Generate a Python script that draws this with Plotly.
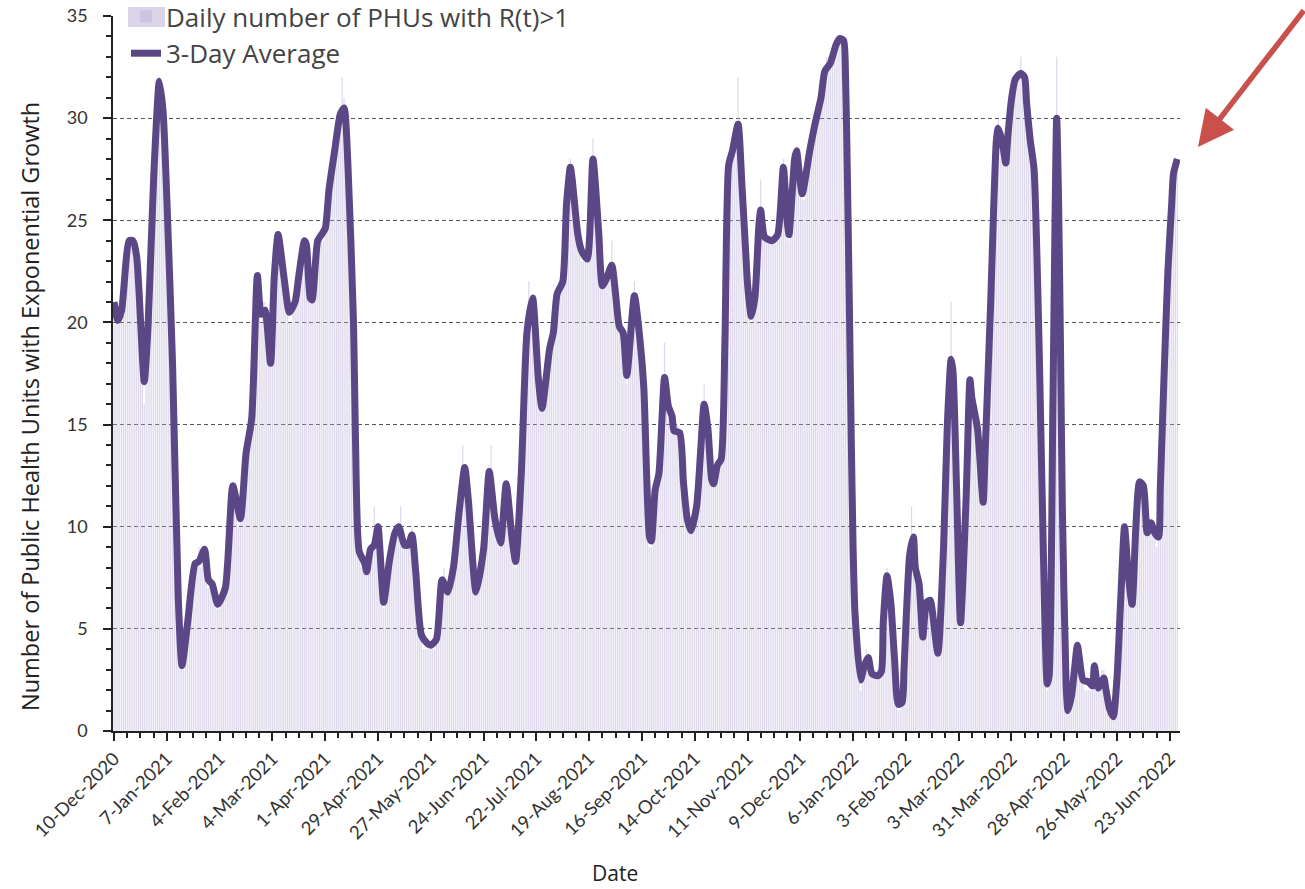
import pandas as pd
import plotly.graph_objects as go

start_date = "2020-12-10"

# Daily number of PHUs with R(t)>1 (one value per day from 10-Dec-2020)
daily = [
    21, 20, 20, 21, 20, 22, 23, 24, 24, 24,
    24, 23, 24, 22, 20, 18, 16, 18, 20, 23,
    25, 27, 29, 31, 32, 31, 30, 28, 26, 23,
    21, 18, 14, 10, 6, 4, 3, 3, 4, 5,
    6, 7, 8, 8, 8, 9, 8, 9, 9, 8,
    7, 7, 7, 7, 6, 6, 6, 7, 7, 8,
    9, 10, 11, 12, 12, 11, 10, 11, 12, 13,
    14, 14, 15, 15, 18, 20, 22, 21, 20, 21,
    21, 20, 19, 18, 20, 22, 24, 24, 24, 23,
    22, 21, 21, 20, 20, 21, 21, 21, 22, 23,
    24, 24, 24, 22, 21, 21, 22, 23, 24, 24,
    24, 24, 25, 26, 26, 27, 28, 28, 29, 30,
    30, 32, 31, 29, 28, 25, 23, 19, 15, 11,
    9, 8, 8, 8, 8, 8, 9, 9, 11, 10,
    10, 9, 7, 6, 7, 7, 8, 9, 9, 10,
    10, 10, 11, 9, 9, 9, 9, 9, 10, 9,
    8, 6, 5, 5, 4, 4, 4, 4, 4, 4,
    4, 5, 5, 7, 7, 8, 7, 7, 7, 8,
    8, 9, 10, 11, 11, 14, 13, 12, 11, 10,
    8, 7, 7, 7, 8, 8, 9, 10, 11, 13,
    14, 11, 10, 10, 9, 9, 10, 11, 12, 12,
    11, 10, 9, 8, 9, 11, 13, 15, 18, 20,
    22, 21, 21, 20, 18, 17, 16, 16, 16, 17,
    18, 19, 19, 20, 21, 21, 22, 22, 22, 24,
    26, 27, 28, 27, 26, 25, 24, 24, 23, 23,
    23, 23, 25, 27, 29, 27, 26, 24, 24, 22,
    22, 22, 22, 23, 24, 22, 21, 21, 20, 20,
    19, 18, 17, 18, 20, 21, 22, 21, 20, 19,
    18, 17, 15, 12, 9, 9, 11, 12, 12, 13,
    14, 17, 19, 16, 16, 16, 15, 15, 15, 15,
    14, 13, 12, 11, 10, 10, 10, 10, 11, 11,
    12, 14, 16, 17, 16, 15, 14, 12, 12, 13,
    13, 13, 13, 15, 19, 24, 28, 28, 28, 29,
    29, 32, 29, 27, 25, 24, 22, 21, 20, 21,
    21, 23, 25, 27, 25, 24, 24, 24, 24, 24,
    24, 24, 24, 26, 27, 28, 26, 25, 24, 26,
    27, 28, 28, 28, 27, 26, 26, 27, 28, 28,
    29, 29, 30, 30, 31, 31, 32, 32, 33, 33,
    33, 33, 33, 34, 34, 34, 34, 34, 32, 27,
    21, 14, 9, 6, 4, 3, 2, 3, 3, 4,
    3, 3, 3, 3, 3, 3, 3, 3, 5, 7,
    8, 7, 6, 5, 3, 2, 1, 1, 2, 3,
    5, 7, 9, 11, 9, 8, 8, 7, 6, 5,
    5, 6, 6, 6, 6, 5, 4, 4, 5, 7,
    10, 13, 16, 17, 21, 18, 15, 11, 8, 5,
    7, 9, 12, 15, 17, 16, 16, 15, 15, 14,
    12, 11, 14, 16, 19, 21, 24, 27, 29, 30,
    29, 29, 28, 28, 29, 30, 31, 31, 32, 32,
    32, 33, 32, 32, 31, 30, 29, 28, 28, 25,
    21, 18, 13, 9, 5, 2, 3, 8, 16, 24,
    33, 26, 19, 11, 5, 2, 1, 1, 2, 3,
    4, 4, 4, 3, 3, 2, 2, 2, 2, 2,
    3, 3, 2, 2, 3, 3, 2, 2, 1, 1,
    1, 1, 3, 5, 7, 10, 10, 8, 8, 7,
    6, 8, 10, 12, 12, 12, 12, 10, 10, 10,
    10, 10, 10, 9, 10, 12, 15, 18, 21, 23,
    25, 26, 27, 28, 28,
]

# 3-day average line, read at its turning points (day offset from 10-Dec-2020, value)
avg_day = [
    0, 2, 4, 8, 10, 12, 16, 18, 21, 24, 26, 28, 31, 34, 36, 39, 43, 45, 48, 50,
    52, 55, 59, 63, 67, 70, 73, 76, 78, 80, 83, 85, 87, 90, 93, 96, 98, 101, 102, 104,
    105, 108, 110, 112, 114, 117, 120, 122, 124, 127, 128, 130, 133, 134, 136, 138, 140, 141, 143, 146,
    149, 151, 154, 156, 158, 160, 163, 166, 168, 171, 174, 177, 180, 183, 186, 188, 192, 196, 199, 202,
    205, 208, 211, 213, 216, 219, 222, 225, 227, 231, 233, 235, 238, 240, 242, 243, 246, 248, 251, 254,
    257, 259, 261, 264, 266, 268, 270, 272, 276, 279, 281, 284, 285, 287, 289, 292, 294, 296, 297, 300,
    302, 304, 306, 309, 311, 313, 315, 317, 318, 320, 322, 324, 326, 328, 331, 333, 335, 336, 338, 340,
    342, 343, 345, 349, 352, 355, 357, 358, 361, 362, 365, 369, 372, 375, 377, 380, 383, 385, 387, 388,
    389, 390, 391, 392, 393, 396, 398, 400, 402, 405, 407, 408, 410, 412, 414, 416, 418, 419, 422, 424,
    425, 427, 429, 431, 433, 434, 437, 440, 442, 444, 445, 447, 449, 452, 454, 455, 458, 461, 462, 465,
    468, 469, 471, 473, 474, 476, 478, 481, 483, 484, 486, 488, 490, 491, 493, 495, 496, 498, 500, 501,
    502, 503, 505, 506, 508, 511, 512, 514, 517, 519, 520, 522, 525, 526, 528, 530, 532, 534, 536, 538,
    540, 542, 544, 546, 548, 550, 552, 554, 555, 557, 559, 561, 562, 564,
]
avg_val = [
    21.0, 20.1, 20.6, 24.0, 24.0, 23.2, 17.1, 19.8, 27.1, 31.8, 30.3, 26.0, 18.0, 6.6, 3.2, 5.3, 8.2, 8.3, 8.9, 7.4,
    7.2, 6.2, 7.0, 12.0, 10.4, 13.6, 15.3, 22.3, 20.4, 20.6, 18.0, 22.3, 24.3, 22.3, 20.5, 21.0, 22.3, 24.0, 23.8, 21.2,
    21.1, 24.0, 24.3, 24.6, 26.5, 28.4, 30.2, 30.5, 27.8, 20.0, 14.5, 8.8, 8.2, 7.8, 8.9, 9.1, 10.0, 8.9, 6.3, 8.3,
    9.7, 10.0, 9.1, 9.1, 9.6, 7.8, 4.7, 4.3, 4.2, 4.5, 7.4, 6.8, 8.0, 10.7, 12.9, 11.2, 6.8, 8.9, 12.7, 10.4,
    9.2, 12.1, 9.5, 8.3, 12.6, 19.5, 21.2, 17.3, 15.8, 18.7, 19.5, 21.4, 22.0, 25.8, 27.6, 27.0, 24.3, 23.5, 23.1, 28.0,
    24.5, 21.8, 22.1, 22.8, 21.4, 19.8, 19.5, 17.4, 21.3, 19.1, 16.8, 9.5, 9.3, 11.8, 12.6, 17.3, 15.9, 15.4, 14.7, 14.6,
    12.2, 10.4, 9.8, 11.0, 13.5, 16.0, 14.8, 12.3, 12.1, 13.0, 13.3, 19.0, 27.7, 28.4, 29.7, 26.8, 23.5, 21.9, 20.3, 21.3,
    24.7, 25.5, 24.2, 24.0, 24.3, 27.6, 25.0, 24.3, 28.0, 28.4, 26.3, 28.4, 29.8, 31.0, 32.3, 32.7, 33.6, 33.9, 33.8, 32.0,
    27.0, 21.0, 14.5, 9.0, 5.8, 2.5, 3.2, 3.6, 2.8, 2.7, 2.9, 5.3, 7.6, 6.3, 3.5, 1.3, 1.4, 3.0, 8.6, 9.5,
    8.0, 7.2, 4.6, 6.3, 6.4, 5.9, 3.8, 9.0, 15.0, 18.2, 17.6, 11.5, 5.3, 11.5, 17.2, 16.3, 14.8, 11.2, 13.5, 21.0,
    28.9, 29.5, 28.9, 27.8, 29.0, 30.9, 31.9, 32.2, 32.0, 30.8, 28.9, 27.5, 21.5, 17.5, 8.5, 2.3, 2.7, 16.0, 30.0, 26.0,
    19.0, 11.0, 2.3, 1.0, 1.8, 4.2, 3.6, 2.5, 2.4, 2.2, 3.2, 2.1, 2.6, 2.1, 1.1, 0.7, 2.6, 6.5, 10.0, 7.6,
    6.2, 10.0, 12.2, 12.0, 9.7, 10.2, 9.7, 9.5, 12.0, 17.5, 22.5, 25.8, 27.3, 28.0,
]

start = pd.Timestamp(start_date)
daily_dates = [start + pd.Timedelta(days=i) for i in range(len(daily))]
avg_dates = [start + pd.Timedelta(days=d) for d in avg_day]

FONT = "Lato, 'Open Sans', Arial, sans-serif"
FONT2 = "'Open Sans', Lato, Arial, sans-serif"
BAR_COLOR = "rgba(190,178,218,0.5)"
SWATCH_COLOR = "#dcd5ea"

W, H = 1305, 889
ML, MR, MT, MB = 113, 125, 16, 158
PW, PH = W - ML - MR, H - MT - MB


def px(x):  # page pixel -> paper x
    return (x - ML) / PW


def py(y):  # page pixel -> paper y
    return (H - MB - y) / PH


fig = go.Figure()
fig.add_trace(go.Bar(
    x=daily_dates, y=daily,
    name="Daily number of PHUs with R(t)>1",
    marker=dict(color=BAR_COLOR, line=dict(width=0)),
))
fig.add_trace(go.Scatter(
    x=avg_dates, y=avg_val, mode="lines",
    name="3-Day Average",
    line=dict(color="#5b4786", width=7, shape="spline", smoothing=0.6),
))

day_ms = 86400000
fig.update_layout(
    width=W, height=H,
    margin=dict(l=ML, r=MR, t=MT, b=MB, autoexpand=False),
    paper_bgcolor="white", plot_bgcolor="white",
    bargap=0.35,
    font=dict(family=FONT, color="#222", size=17),
    showlegend=True,
    legend=dict(
        x=px(126), y=py(-7), xref="paper", yref="paper",
        xanchor="left", yanchor="top",
        bgcolor="rgba(255,255,255,0)",
        font=dict(family=FONT2, size=26, color="#444"),
        tracegroupgap=0, itemwidth=30,
    ),
    xaxis=dict(
        type="date", automargin=False,
        range=[start - pd.Timedelta(hours=14), start + pd.Timedelta(days=565, hours=10)],
        tick0=start_date, dtick=28 * day_ms,
        tickformat="%-d-%b-%Y", tickangle=-45,
        ticks="outside", ticklen=8, tickwidth=1.5, tickcolor="#222",
        minor=dict(dtick=7 * day_ms, tick0=start_date, ticks="outside", ticklen=5, tickcolor="#222"),
        showline=True, linecolor="#222", linewidth=1.5,
        showgrid=False, zeroline=False,
        tickfont=dict(family=FONT, size=18.5, color="#333"),
    ),
    yaxis=dict(
        range=[0, 35], dtick=5, tick0=0, automargin=False,
        ticks="outside", ticklen=8, tickwidth=1.5, tickcolor="#222",
        ticklabelstandoff=12,
        minor=dict(dtick=1, ticks="outside", ticklen=5, tickcolor="#222", showgrid=False),
        showline=True, linecolor="#222", linewidth=1.5,
        showgrid=True, gridcolor="#555", gridwidth=1, griddash="4px,3px",
        zeroline=False,
        tickfont=dict(family=FONT, size=18, color="#333"),
    ),
)

# y-axis title
fig.add_annotation(
    text="Number of Public Health Units with Exponential Growth",
    x=px(30), y=py(407), xref="paper", yref="paper", textangle=-90,
    xanchor="center", yanchor="middle", showarrow=False,
    font=dict(family=FONT2, size=23.5, color="#222"),
)
# x-axis title
fig.add_annotation(
    text="Date", x=px(615), y=py(873), xref="paper", yref="paper",
    xanchor="center", yanchor="middle", showarrow=False,
    font=dict(family=FONT2, size=21, color="#222"),
)

# legend backdrop hides the top gridline behind the legend
fig.add_shape(
    type="rect", xref="paper", yref="paper", layer="above",
    x0=px(114), x1=px(588), y0=py(22), y1=py(10),
    fillcolor="white", line=dict(width=0),
)
# larger legend swatch for the daily bars
fig.add_shape(
    type="rect", xref="paper", yref="paper", layer="above",
    x0=px(128), x1=px(165), y0=py(27), y1=py(7),
    fillcolor=SWATCH_COLOR, line=dict(width=0),
)

# red arrow pointing at the latest value
fig.add_annotation(
    x=px(1198), y=py(147), xref="paper", yref="paper",
    ax=118, ay=-138, axref="pixel", ayref="pixel",
    showarrow=True, arrowhead=2, arrowsize=1.3, arrowwidth=5.5,
    arrowcolor="#c9504b", text="",
)

fig.write_html(
    "out.html",
    config={"displayModeBar": False},
    post_script="document.body.style.margin='0';document.body.style.overflow='hidden';",
)
